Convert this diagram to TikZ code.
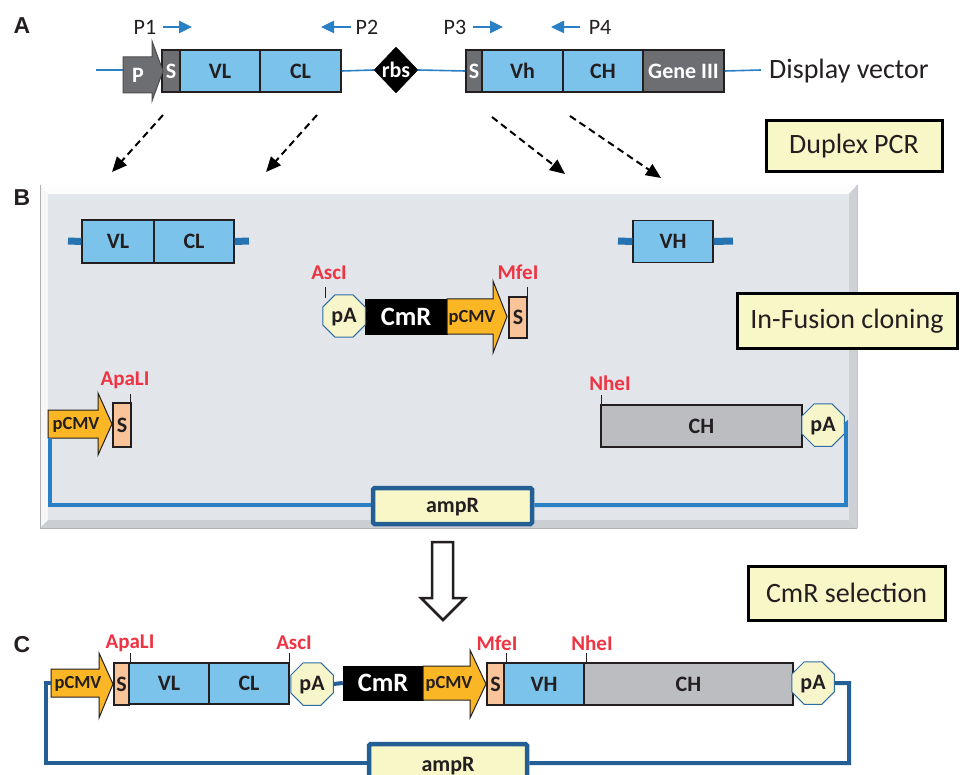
\documentclass[tikz,border=0pt]{standalone}
\usepackage{fontspec}
\setmainfont{Carlito}
\newfontfamily\panelfont{Liberation Sans}
\usetikzlibrary{arrows.meta,shapes.geometric}

\definecolor{geneblue}{HTML}{7BC3EA}
\definecolor{segdark}{HTML}{6D6E71}
\definecolor{chgray}{HTML}{BCBDC0}
\definecolor{promo}{HTML}{FBB625}
\definecolor{peach}{HTML}{F9C49A}
\definecolor{pafill}{HTML}{F7F6CA}
\definecolor{paedge}{HTML}{2E6DA4}
\definecolor{sitered}{HTML}{EE3442}
\definecolor{notefill}{HTML}{F7F7C7}
\definecolor{wireblue}{HTML}{2A80C5}
\definecolor{wiredark}{HTML}{235F94}
\definecolor{inkdark}{HTML}{231F20}
\definecolor{panelface}{HTML}{E2E5EA}

\newcommand\genefont{\fontsize{22}{24}\selectfont\bfseries}
\newcommand\bigfont{\fontsize{26.5}{28}\selectfont\bfseries}
\newcommand\notefont{\fontsize{28}{30}\selectfont}
\newcommand\primerfont{\fontsize{22}{24}\selectfont}
\newcommand\sitefont{\fontsize{21}{23}\selectfont\bfseries}
\newcommand\promofont{\fontsize{18.5}{20}\selectfont\bfseries}
\newcommand\letterfont{\panelfont\fontsize{23}{25}\selectfont\bfseries}

\tikzset{
  seg/.style={rectangle, draw=inkdark, line width=1.2pt, inner sep=0pt,
    text=inkdark, font=\genefont, text height=14.2pt, text depth=0pt},
  gene/.style={seg, fill=geneblue},
  darkseg/.style={seg, fill=segdark, text=white},
  chseg/.style={seg, fill=chgray},
  sseg/.style={seg, fill=peach},
  cmr/.style={rectangle, fill=black, draw=black, inner sep=0pt, text=white,
    font=\bigfont, text height=17.1pt, text depth=0pt},
  polyA/.style={regular polygon, regular polygon sides=8, minimum size=46pt,
    inner sep=0pt, fill=pafill, draw=paedge, line width=1pt, text=inkdark,
    font=\genefont, text height=14.2pt, text depth=2pt},
  promoshape/.style={fill=promo, draw=inkdark, line width=1pt},
  promotext/.style={inner sep=0pt, text=inkdark, font=\promofont,
    text height=11.9pt, text depth=0pt},
  site/.style={inner sep=0pt, text=sitered, font=\sitefont},
  tick/.style={draw=inkdark, line width=1pt},
  note/.style={rectangle, draw=black, line width=3pt, fill=notefill,
    inner sep=0pt, font=\notefont, text=inkdark},
  ampbox/.style={rectangle, draw=wiredark, line width=4.5pt, fill=notefill,
    inner sep=0pt, font=\genefont, text=inkdark, rounded corners=1.5pt,
    text height=14.2pt, text depth=2pt},
  wireA/.style={draw=wireblue, line width=1.6pt},
  wireB/.style={draw=wireblue, line width=4pt},
  wireC/.style={draw=wiredark, line width=4pt},
  stub/.style={draw=wireblue!90!black, line width=7pt},
  primer/.style={draw=wireblue, line width=2.5pt,
    -{Triangle[length=13pt,width=12pt]}},
  pcr/.style={draw=black, line width=2pt, dash pattern=on 7pt off 4.5pt,
    -{Triangle[length=15pt,width=13pt]}},
  letter/.style={inner sep=0pt, font=\letterfont, text=inkdark},
}

\begin{document}
\begin{tikzpicture}[x=1pt,y=-1pt]
\useasboundingbox (0,0) rectangle (960,775);

% ---------------- A: display vector ----------------
\node[letter] (labA) at (22,26) {A};

\coordinate (aStart) at (96,70);
\coordinate (aEnd) at (761,70);
\coordinate (pTail) at (123,70);

\node[darkseg, minimum width=18pt, minimum height=42pt] (sA1) at (171,71) {S};
\node[gene, minimum width=80pt, minimum height=42pt] (vlA) at (220,71) {VL};
\node[gene, minimum width=81pt, minimum height=42pt] (clA) at (300.5,71) {CL};
\node[diamond, fill=black, draw=black, minimum width=42pt, minimum height=46pt,
  inner sep=0pt, text=white, font=\genefont] (rbs) at (396,70) {rbs};
\node[darkseg, minimum width=16pt, minimum height=42pt] (sA2) at (474,71) {S};
\node[gene, minimum width=81pt, minimum height=42pt] (vhA) at (522.5,71) {Vh};
\node[gene, minimum width=80pt, minimum height=42pt] (chA) at (603,71) {CH};
\node[darkseg, minimum width=81pt, minimum height=42pt] (g3) at (683.5,71) {Gene III};

\draw[wireA] (aStart) -- (pTail);
\draw[wireA] (clA.east) -- (rbs.west);
\draw[wireA] (rbs.east) -- (sA2.west);
\draw[wireA] (g3.east) -- (aEnd);

% promoter P
\draw[fill=segdark, draw=inkdark!80, line width=1pt]
  (123,57) -- (152,57) -- (152,41) -- (163,71) -- (152,101) -- (152,93) -- (123,93) -- cycle;
\node[inner sep=0pt, text=white, font=\genefont, text height=14.2pt, text depth=0pt] (pP) at (138,75) {P};

\node[anchor=west, inner sep=0pt, font=\notefont, text=inkdark] (disp) at (769,71) {Display vector};

% primers
\node[inner sep=0pt, font=\primerfont, text=inkdark] (p1) at (145,27) {P1};
\node[inner sep=0pt, font=\primerfont, text=inkdark] (p2) at (367,27) {P2};
\node[inner sep=0pt, font=\primerfont, text=inkdark] (p3) at (455,27) {P3};
\node[inner sep=0pt, font=\primerfont, text=inkdark] (p4) at (600,27) {P4};
\coordinate (p1a) at (163,27); \coordinate (p1b) at (192,27);
\coordinate (p2a) at (351,27); \coordinate (p2b) at (321,27);
\coordinate (p3a) at (473,27); \coordinate (p3b) at (503,27);
\coordinate (p4a) at (580,27); \coordinate (p4b) at (551,27);
\draw[primer] (p1a) -- (p1b);
\draw[primer] (p2a) -- (p2b);
\draw[primer] (p3a) -- (p3b);
\draw[primer] (p4a) -- (p4b);

% duplex PCR arrows
\coordinate (d1a) at (163,115); \coordinate (d1b) at (112,172);
\coordinate (d2a) at (317,115); \coordinate (d2b) at (266,172);
\coordinate (d3a) at (492,117); \coordinate (d3b) at (565,174);
\coordinate (d4a) at (570,116); \coordinate (d4b) at (661,178);
\draw[pcr] (d1a) -- (d1b);
\draw[pcr] (d2a) -- (d2b);
\draw[pcr] (d3a) -- (d3b);
\draw[pcr] (d4a) -- (d4b);

\node[note, minimum width=176pt, minimum height=51pt] (dup) at (854,146.5) {Duplex PCR};

% ---------------- B: In-Fusion panel ----------------
\node[letter] (labB) at (22,198) {B};

\fill[white!92!panelface] (40,185) -- (857,185) -- (849,194) -- (48,194) -- cycle;
\fill[white!70!panelface] (40,185) -- (48,194) -- (48,520) -- (40,528) -- cycle;
\fill[black!9!panelface] (857,185) -- (857,528) -- (849,520) -- (849,194) -- cycle;
\fill[black!10!panelface] (40,528) -- (857,528) -- (849,520) -- (48,520) -- cycle;
\fill[panelface] (48,194) rectangle (849,520);
\draw[black!30, line width=1pt] (40.5,185) -- (40.5,528) -- (857,528);
\draw[black!22, line width=1pt] (857,185) -- (857,528);

% VL-CL fragment
\node[gene, minimum width=72pt, minimum height=43pt] (vlB) at (118,241.5) {VL};
\node[gene, minimum width=80pt, minimum height=43pt] (clB) at (194,241.5) {CL};
\coordinate (stubL1) at (68,241); \coordinate (stubR1) at (249,241);
\draw[stub] (stubL1) -- (vlB.west);
\draw[stub] (clB.east) -- (stubR1);

% VH fragment
\node[gene, minimum width=80pt, minimum height=42pt] (vhB) at (673,241.5) {VH};
\coordinate (stubL2) at (618,241); \coordinate (stubR2) at (733,241);
\draw[stub] (stubL2) -- (vhB.west);
\draw[stub] (vhB.east) -- (stubR2);

% pA-CmR-pCMV-S cassette
\node[cmr, minimum width=82pt, minimum height=35pt] (cmrB) at (406,316.5) {CmR};
\node[polyA] (paB1) at (344,316) {pA};
\draw[promoshape] (447,299) -- (493,299) -- (493,281) -- (507,316.5) -- (493,353) -- (493,334) -- (447,334) -- cycle;
\node[promotext] (pcmvB2) at (472,317) {pCMV};
\node[sseg, minimum width=18pt, minimum height=41pt] (sB2) at (518,317.5) {S};
\node[site] (ascB) at (329,273) {AscI};
\node[site] (mfeB) at (518,272) {MfeI};
\draw[tick] (325,287) -- (325,298);
\draw[tick] (527,287) -- (527,297);

% acceptor vector
\draw[promoshape] (48,410) -- (98,410) -- (98,393) -- (112,424) -- (98,455) -- (98,438) -- (48,438) -- cycle;
\node[promotext] (pcmvB1) at (76,424) {pCMV};
\node[sseg, minimum width=18pt, minimum height=44pt] (sB1) at (122,425) {S};
\node[site] (apaB) at (125,380) {ApaLI};
\draw[tick] (130.5,394) -- (130.5,403);

\node[chseg, minimum width=201pt, minimum height=42pt] (chB) at (701.5,426) {CH};
\node[polyA] (paB2) at (823,425) {pA};
\node[site] (nheB) at (610,383) {NheI};
\draw[tick] (601,395) -- (601,405);

\node[ampbox, minimum width=159pt, minimum height=36pt] (ampB) at (452.5,506) {ampR};
\coordinate (bl1) at (50,438); \coordinate (bl2) at (50,505);
\coordinate (br1) at (846,424); \coordinate (br2) at (846,505);
\draw[wireB] (bl1) -- (bl2) -- (ampB.west |- bl2);
\draw[wireB] (paB2.east) -- (br1) -- (br2) -- (ampB.east |- br2);

\node[note, minimum width=220pt, minimum height=54pt] (inf) at (847,321) {In-Fusion cloning};

% hollow arrow between B and C
\draw[draw=inkdark, line width=2.5pt, fill=white, line join=miter]
  (432,542) -- (453,542) -- (453,598) -- (465,598) -- (443,620) -- (421,598) -- (432,598) -- cycle;

\node[note, minimum width=197pt, minimum height=54pt] (sel) at (846.5,593) {CmR selection};

% ---------------- C: final vector ----------------
\node[letter] (labC) at (22,645) {C};

\draw[promoshape] (51,669) -- (99,669) -- (99,653) -- (113,684) -- (99,718) -- (99,697) -- (51,697) -- cycle;
\node[promotext] (pcmvC1) at (78,683) {pCMV};
\node[sseg, minimum width=15pt, minimum height=42pt] (sC1) at (121.5,684) {S};
\node[gene, minimum width=80pt, minimum height=41pt] (vlC) at (169,683.5) {VL};
\node[gene, minimum width=80pt, minimum height=41pt] (clC) at (249,683.5) {CL};
\node[polyA] (paC1) at (312,684) {pA};
\node[cmr, minimum width=80pt, minimum height=34pt] (cmrC) at (383,683) {CmR};
\draw[wireC] (paC1.east) -- (cmrC.west);
\draw[promoshape] (423,666) -- (470,666) -- (470,650) -- (486,684) -- (470,718) -- (470,700) -- (423,700) -- cycle;
\node[promotext] (pcmvC2) at (449,683) {pCMV};
\node[sseg, minimum width=17pt, minimum height=42pt] (sC2) at (495.5,684) {S};
\node[gene, minimum width=80pt, minimum height=42pt] (vhC) at (544,684) {VH};
\node[chseg, minimum width=209pt, minimum height=42pt] (chC) at (688.5,684) {CH};
\node[polyA] (paC2) at (813,683) {pA};

\node[site] (apaC) at (130,643) {ApaLI};
\node[site] (ascC) at (294,643) {AscI};
\node[site] (mfeC) at (497,643) {MfeI};
\node[site] (nheC) at (592,643) {NheI};
\draw[tick] (130,653) -- (130,663);
\draw[tick] (289,653) -- (289,663);
\draw[tick] (506,653) -- (506,663);
\draw[tick] (586,653) -- (586,663);

\node[ampbox, minimum width=158pt, minimum height=42pt] (ampC) at (448,765) {ampR};
\coordinate (cl0) at (51,683);
\coordinate (cl1) at (46,683); \coordinate (cl2) at (46,763);
\coordinate (cr1) at (849,683); \coordinate (cr2) at (849,763);
\draw[wireC] (cl0) -- (cl1) -- (cl2) -- (ampC.west |- cl2);
\draw[wireC] (paC2.east) -- (cr1) -- (cr2) -- (ampC.east |- cr2);
\end{tikzpicture}
\end{document}
